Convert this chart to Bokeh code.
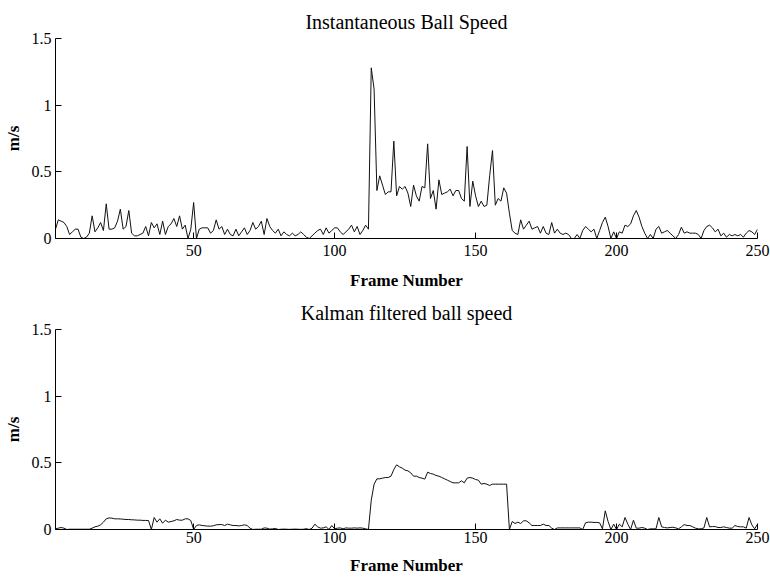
from bokeh.plotting import figure
from bokeh.layouts import column
from bokeh.models import FixedTicker, Range1d
from bokeh.embed import file_html
from bokeh.resources import INLINE

frames = list(range(1, 251))

instant_speed = [
    0.07, 0.14, 0.13, 0.12, 0.09, 0.03, 0.05, 0.07, 0.07, 0.01,
    0.00, 0.01, 0.04, 0.17, 0.05, 0.08, 0.12, 0.06, 0.26, 0.07,
    0.07, 0.08, 0.13, 0.22, 0.07, 0.09, 0.21, 0.04, 0.02, 0.02,
    0.03, 0.04, 0.09, 0.02, 0.12, 0.08, 0.11, 0.03, 0.13, 0.03,
    0.09, 0.11, 0.15, 0.09, 0.17, 0.07, 0.10, 0.00, 0.07, 0.27,
    0.00, 0.07, 0.08, 0.08, 0.08, 0.04, 0.06, 0.14, 0.07, 0.09,
    0.03, 0.07, 0.03, 0.02, 0.07, 0.02, 0.05, 0.08, 0.03, 0.06,
    0.12, 0.07, 0.09, 0.13, 0.03, 0.15, 0.09, 0.06, 0.04, 0.07,
    0.02, 0.05, 0.03, 0.02, 0.04, 0.02, 0.03, 0.05, 0.03, 0.01,
    0.00, 0.02, 0.04, 0.06, 0.07, 0.03, 0.08, 0.04, 0.06, 0.08,
    0.08, 0.05, 0.03, 0.05, 0.07, 0.10, 0.05, 0.09, 0.03, 0.06,
    0.10, 0.07, 1.28, 1.12, 0.36, 0.47, 0.40, 0.33, 0.35, 0.35,
    0.73, 0.32, 0.39, 0.37, 0.39, 0.34, 0.24, 0.40, 0.32, 0.28,
    0.39, 0.38, 0.71, 0.30, 0.36, 0.22, 0.44, 0.33, 0.34, 0.35,
    0.37, 0.32, 0.36, 0.36, 0.30, 0.28, 0.69, 0.24, 0.43, 0.32,
    0.24, 0.28, 0.24, 0.25, 0.47, 0.66, 0.25, 0.30, 0.28, 0.38,
    0.34, 0.19, 0.06, 0.04, 0.03, 0.14, 0.07, 0.10, 0.13, 0.07,
    0.08, 0.09, 0.04, 0.09, 0.04, 0.03, 0.12, 0.04, 0.07, 0.04,
    0.03, 0.04, 0.03, 0.00, 0.00, 0.03, 0.00, 0.06, 0.09, 0.07,
    0.05, 0.07, 0.00, 0.06, 0.12, 0.16, 0.09, 0.00, 0.05, 0.00,
    0.05, 0.04, 0.10, 0.09, 0.11, 0.17, 0.21, 0.16, 0.09, 0.04,
    0.00, 0.03, 0.00, 0.07, 0.09, 0.04, 0.05, 0.06, 0.04, 0.02,
    0.00, 0.03, 0.085, 0.04, 0.05, 0.04, 0.04, 0.04, 0.03, 0.00,
    0.06, 0.09, 0.10, 0.08, 0.05, 0.07, 0.02, 0.04, 0.01, 0.03,
    0.02, 0.03, 0.02, 0.03, 0.01, 0.04, 0.06, 0.05, 0.03, 0.07,
]

kalman_speed = [
    0.005, 0.010, 0.015, 0.010, 0.000, 0.002, 0.002, 0.002, 0.002, 0.002,
    0.002, 0.002, 0.002, 0.010, 0.020, 0.025, 0.035, 0.055, 0.080, 0.087,
    0.085, 0.080, 0.080, 0.079, 0.077, 0.075, 0.075, 0.073, 0.072, 0.070,
    0.070, 0.068, 0.068, 0.067, 0.000, 0.090, 0.055, 0.080, 0.047, 0.070,
    0.055, 0.060, 0.065, 0.075, 0.070, 0.070, 0.080, 0.080, 0.067, 0.000,
    0.030, 0.035, 0.030, 0.028, 0.025, 0.025, 0.028, 0.035, 0.037, 0.037,
    0.030, 0.040, 0.035, 0.030, 0.030, 0.027, 0.030, 0.035, 0.030, 0.010,
    0.000, 0.002, 0.002, 0.002, 0.012, 0.010, 0.003, 0.005, 0.008, 0.000,
    0.002, 0.003, 0.002, 0.001, 0.002, 0.003, 0.002, 0.001, 0.002, 0.006,
    0.000, 0.010, 0.040, 0.020, 0.010, 0.012, 0.020, 0.000, 0.030, 0.005,
    0.010, 0.012, 0.005, 0.012, 0.010, 0.010, 0.012, 0.010, 0.012, 0.010,
    0.005, 0.000, 0.220, 0.340, 0.380, 0.380, 0.385, 0.390, 0.390, 0.400,
    0.450, 0.485, 0.470, 0.460, 0.445, 0.440, 0.425, 0.400, 0.400, 0.390,
    0.385, 0.378, 0.430, 0.420, 0.415, 0.405, 0.400, 0.390, 0.380, 0.370,
    0.360, 0.350, 0.350, 0.350, 0.365, 0.350, 0.385, 0.390, 0.385, 0.375,
    0.370, 0.340, 0.345, 0.340, 0.330, 0.340, 0.340, 0.340, 0.340, 0.340,
    0.340, 0.000, 0.060, 0.045, 0.055, 0.045, 0.065, 0.065, 0.050, 0.030,
    0.030, 0.030, 0.030, 0.040, 0.030, 0.030, 0.010, 0.000, 0.012, 0.012,
    0.012, 0.012, 0.012, 0.012, 0.012, 0.012, 0.012, 0.000, 0.050, 0.055,
    0.055, 0.053, 0.053, 0.050, 0.005, 0.140, 0.060, 0.000, 0.040, 0.000,
    0.040, 0.020, 0.090, 0.040, 0.000, 0.070, 0.010, 0.010, 0.015, 0.010,
    0.000, 0.005, 0.005, 0.005, 0.090, 0.020, 0.015, 0.012, 0.015, 0.017,
    0.012, 0.005, 0.020, 0.037, 0.030, 0.030, 0.020, 0.010, 0.005, 0.005,
    0.012, 0.090, 0.020, 0.022, 0.022, 0.015, 0.015, 0.020, 0.015, 0.010,
    0.010, 0.030, 0.022, 0.020, 0.020, 0.010, 0.090, 0.035, 0.005, 0.040,
]

x_ticks = [50, 100, 150, 200, 250]
y_ticks = [0, 0.5, 1, 1.5]
y_tick_labels = {0: "0", 0.5: "0.5", 1: "1", 1.5: "1.5"}

titles = ["Instantaneous Ball Speed", "Kalman filtered ball speed"]
x_label = "Frame Number"
y_label = "m/s"

SERIF = "Liberation Serif"


def make_panel(title, ys, height, top, bottom, tick_sd, label_sd):
    p = figure(width=770, height=height, output_backend="svg",
               toolbar_location=None, tools="",
               x_range=Range1d(1, 250), y_range=Range1d(0, 1.5),
               min_border_left=54, min_border_right=13,
               min_border_top=top, min_border_bottom=bottom,
               title=title)
    p.title.text_font = SERIF
    p.title.text_font_size = "20px"
    p.title.text_font_style = "normal"
    p.title.text_color = "black"
    p.title.align = "center"
    p.title.offset = 0
    p.title.standoff = 12
    p.outline_line_color = None
    p.xgrid.visible = False
    p.ygrid.visible = False
    p.background_fill_color = "white"
    p.border_fill_color = "white"

    p.line(frames, ys, line_color="#111111", line_width=1)

    xa = p.xaxis[0]
    xa.ticker = FixedTicker(ticks=x_ticks)
    xa.axis_label = x_label
    ya = p.yaxis[0]
    ya.ticker = FixedTicker(ticks=y_ticks)
    ya.major_label_overrides = y_tick_labels
    ya.axis_label = y_label
    for ax in (xa, ya):
        ax.axis_line_color = "black"
        ax.major_tick_line_color = "black"
        ax.major_tick_in = 6
        ax.major_tick_out = 0
        ax.minor_tick_line_color = None
        ax.major_label_text_font = SERIF
        ax.major_label_text_font_size = "16px"
        ax.major_label_text_color = "black"
        ax.axis_label_text_font = SERIF
        ax.axis_label_text_font_size = "17px"
        ax.axis_label_text_font_style = "bold"
        ax.axis_label_text_color = "black"
    xa.major_label_standoff = tick_sd
    xa.axis_label_standoff = label_sd
    ya.major_label_standoff = 4
    ya.axis_label_standoff = 6
    return p


p1 = make_panel(titles[0], instant_speed, 292, 38, 53, 6, 12)
p2 = make_panel(titles[1], kalman_speed, 285, 37, 48, 2, 10)

layout = column(p1, p2, spacing=0)
open("out.html", "w").write(file_html(layout, INLINE))
